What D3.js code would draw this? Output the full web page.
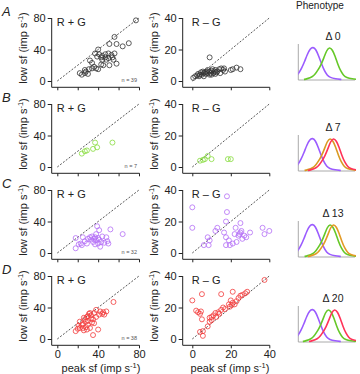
<!DOCTYPE html>
<html><head><meta charset="utf-8">
<script src="https://cdn.jsdelivr.net/npm/d3@7"></script>
<style>
html,body{margin:0;padding:0;background:#fff;}
svg{display:block;font-family:"Liberation Sans",Arial,sans-serif;}
</style></head>
<body><svg id="c" width="360" height="374"></svg>
<script>
// ---------- data ----------
const rowLetters = ["A","B","C","D"];
const sumTitle = "R + G", diffTitle = "R \u2013 G";
const nLabels = ["n = 39","n = 7","n = 32","n = 38"];
const phenoLabels = ["\u0394 0","\u0394 7","\u0394 13","\u0394 20"];
const xTicksSum = [0,20,40,60,80], yTicksSum = [0,40,80];
const xTicksDiff = [0,20,40], yTicksDiff = [0,20,40];
const colors = ["#333333","#86dc3c","#b46ef6","#f23c3c"];

// R+G : [peak sf, low sf]
const sumA = [[77,77],[56,56],[51,47],[58,47],[64,44],[70,48],[40,40],[37,35],[41,34],[44,32],[47,34],[50,35],[53,33],[56,35],[39,31],[43,30],[47,30],[50,29],[54,30],[44,27],[48,27],[55,27],[32,26],[34,23],[45,20],[51,20],[58,22],[40,15],[43,21],[34,16],[27,14],[31,15],[28,12],[24,8],[30,9],[27,10],[22,10],[36,18],[38,16]];
const sumB = [[24,17],[27,20],[29,21],[35,23],[37,31],[39,25],[54,31]];
const sumC = [[18,19],[18,6],[21,11],[23,12],[25,20],[24,10],[27,15],[29,12],[30,18],[32,20],[33,17],[34,21],[35,14],[36,18],[37,11],[37,20],[38,24],[38,16],[39,34],[40,19],[40,12],[41,29],[41,17],[42,8],[43,14],[44,21],[46,13],[48,20],[49,15],[50,12],[52,30],[64,24]];
const sumD = [[55,47],[48,35],[44,32],[45,34],[46,31],[42,35],[38,37],[36,33],[32,33],[33,30],[31,32],[29,28],[30,29],[27,25],[26,27],[28,22],[25,19],[22,22],[24,18],[21,17],[20,13],[18,10],[22,14],[25,14],[28,15],[30,18],[32,14],[34,21],[35,25],[36,20],[30,23],[33,26],[40,12],[35,5],[29,12],[26,11],[38,28],[41,31]];
// R-G
const diffA = [[0.5,2],[1.5,3],[2.5,3.5],[3,4.5],[4,4],[4.5,5.5],[5,4],[5.5,6],[6,5],[6.5,5.5],[7,4.5],[7.5,6],[8,5],[8,7],[9,4],[9,6],[9.5,5],[10,6.5],[10,4],[10.5,7.5],[11,5],[11.5,6],[12,4.5],[12,7],[12.5,5.5],[13,6],[14,7.5],[14.5,5],[15,8],[16,7],[16.5,8],[17,6],[9,15],[20,7],[21,7.5],[23,8.5],[25,7.5],[3.5,3],[6,3]];
const diffB = [[4,4],[5.5,4.5],[6.5,5],[8,7],[10,5],[18.5,5],[20,5]];
const diffC = [[0,29],[0,16],[18,36],[18,26],[17.5,20],[25,19],[13,16],[22.5,16],[8,10],[9,8],[6,5],[8.5,5],[16.5,13],[17.5,10],[19,8],[17.5,5],[19.5,5],[23,7],[24,11],[25,13],[25.5,14],[24.5,12],[27,11],[28,10],[30,13],[22,12],[36.5,16],[40,14],[37.5,12],[21,6],[26,9],[12,14]];
const diffD = [[37.5,37.5],[28.5,30],[27.5,29],[26,28],[25,27.5],[24,26],[23,24],[21,23],[21,30],[15,28.5],[5,28.5],[0,24.5],[20,24.5],[19.5,20.5],[20.5,21.5],[19,22],[15,18.5],[13.5,17],[12,16.5],[11,15],[10,14],[9,13.5],[9,11],[8,8],[5,12.5],[2,18],[3,17],[4.5,17.5],[4,16],[5.5,5],[5.5,2],[4,4.5],[10,12],[14,16],[17,19],[22,22],[16,20],[12.5,14]];
const sumData = [sumA,sumB,sumC,sumD];
const diffData = [diffA,diffB,diffC,diffD];

// phenotype spectral curves: shape samples (offset from peak, relative sensitivity)
const sOffsets = [-30,-25,-20,-15,-10,-5,0,5,10,15,20,25,30,40,50];
const sValues  = [0.1,0.2,0.35,0.55,0.78,0.95,1,0.93,0.72,0.48,0.27,0.13,0.06,0.02,0];
const lmOffsets = [-45,-40,-30,-25,-20,-15,-10,-5,0,5,10,15,20,25,30,40,50];
const lmValues  = [0,0.02,0.08,0.17,0.3,0.45,0.66,0.9,1,0.92,0.72,0.45,0.25,0.12,0.06,0.02,0];
// per row: [color, peak, shape]
const phenoCurves = [
  [["#9b5cff",26,"s"],["#66c828",55,"lm"]],
  [["#9b5cff",25,"s"],["#d99a22",56,"lm"],["#ff3358",62,"lm"]],
  [["#9b5cff",25,"s"],["#66c828",56,"lm"],["#e39a25",62,"lm"]],
  [["#9b5cff",25,"s"],["#66c828",53,"lm"],["#ff3358",64,"lm"]]
];

// ---------- layout ----------
const rowZero = [81,167,253,339];
const phenoBase = [80,171,257,342];
const svg = d3.select("#c");
const ink = "#222";

const xL = d3.scaleLinear([0,80],[57.3,139]);
const xR = d3.scaleLinear([0,40],[192.3,269.3]);
const xP = d3.scaleLinear([0,100],[298.3,355]);

svg.append("text").attr("x",320).attr("y",9).attr("text-anchor","middle")
  .attr("font-size",10).attr("fill","#222").text("Phenotype");

function ylabel(x,y){
  const t = svg.append("text").attr("transform",`translate(${x},${y}) rotate(-90)`)
    .attr("text-anchor","middle").attr("font-size",11).attr("fill",ink);
  t.append("tspan").text("low sf (imp s");
  t.append("tspan").attr("dy",-4).attr("font-size",7.5).text("-1");
  t.append("tspan").attr("dy",4).text(")");
}
function xlabel(x,y){
  const t = svg.append("text").attr("x",x).attr("y",y)
    .attr("text-anchor","middle").attr("font-size",11).attr("fill",ink);
  t.append("tspan").text("peak sf (imp s");
  t.append("tspan").attr("dy",-4).attr("font-size",7.5).text("-1");
  t.append("tspan").attr("dy",4).text(")");
}

function panel(i, xs, ys, data, xt, yt, spineX, title, nLab, maxV){
  const z = rowZero[i];
  const g = svg.append("g");
  const ax = z + 6.3;
  // spines
  g.append("line").attr("x1",spineX).attr("x2",spineX).attr("y1",ys(maxV)).attr("y2",ax)
    .attr("stroke",ink).attr("stroke-width",1);
  g.append("line").attr("x1",spineX).attr("x2",xs(maxV)+0.5).attr("y1",ax).attr("y2",ax)
    .attr("stroke",ink).attr("stroke-width",1);
  // y axis
  const ya = g.append("g").attr("transform",`translate(${spineX},0)`)
    .call(d3.axisLeft(ys).tickValues(yt).tickSize(4).tickPadding(2));
  ya.select(".domain").remove();
  ya.selectAll("text").attr("font-size",11).attr("fill",ink).attr("font-family","Liberation Sans, Arial, sans-serif");
  ya.selectAll("line").attr("stroke",ink);
  // x axis
  const xa = g.append("g").attr("transform",`translate(0,${ax})`)
    .call(d3.axisBottom(xs).tickValues(xt).tickSize(3).tickPadding(2)
      .tickFormat(d => (i===3 && d % (maxV/2)===0) ? d : ""));
  xa.select(".domain").remove();
  xa.selectAll("text").attr("font-size",11).attr("fill",ink).attr("font-family","Liberation Sans, Arial, sans-serif");
  xa.selectAll("line").attr("stroke",ink);
  // diagonal
  g.append("line").attr("x1",xs(0)).attr("y1",ys(0)).attr("x2",xs(maxV)).attr("y2",ys(maxV))
    .attr("stroke","#444").attr("stroke-width",0.9).attr("stroke-dasharray","2,1.6");
  // points
  g.selectAll("circle").data(data).join("circle")
    .attr("cx",d=>xs(d[0])).attr("cy",d=>ys(d[1])).attr("r",2.5)
    .attr("fill","none").attr("stroke",colors[i]).attr("stroke-width",0.8);
  // title
  g.append("text").attr("x",xs(0)-0.5).attr("y",z-55.5).attr("font-size",11).attr("fill",ink).text(title);
  if(nLab){
    g.append("text").attr("x",xs(maxV)-2).attr("y",z+0.5).attr("text-anchor","end")
      .attr("font-size",5.5).attr("fill","#555").text(nLab);
  }
}

const lineGen = d3.line().curve(d3.curveBasis);
for(let i=0;i<4;i++){
  const z = rowZero[i];
  const yS = d3.scaleLinear([0,80],[z,z-63]);
  const yD = d3.scaleLinear([0,40],[z,z-63]);
  panel(i,xL,yS,sumData[i],xTicksSum,yTicksSum,51.7,sumTitle,nLabels[i],80);
  panel(i,xR,yD,diffData[i],xTicksDiff,yTicksDiff,182.7,diffTitle,null,40);
  ylabel(27, z-33);
  ylabel(157.5, z-33);
  svg.append("text").attr("x",2).attr("y",z-65).attr("font-size",13)
    .attr("font-style","italic").attr("fill",ink).text(rowLetters[i]);

  // phenotype
  const b = phenoBase[i];
  const yP = d3.scaleLinear([0,1],[b-0.5,b-33]);
  const pg = svg.append("g");
  const cid = "clip"+i;
  svg.append("clipPath").attr("id",cid).append("rect")
    .attr("x",xP(0)).attr("y",b-40).attr("width",xP(100)-xP(0)+1).attr("height",41);
  pg.append("line").attr("x1",xP(0)).attr("x2",xP(0)).attr("y1",b-36).attr("y2",b)
    .attr("stroke","#aaa").attr("stroke-width",1);
  pg.append("line").attr("x1",xP(0)).attr("x2",xP(100)).attr("y1",b).attr("y2",b)
    .attr("stroke","#aaa").attr("stroke-width",1);
  const cg = pg.append("g").attr("clip-path",`url(#${cid})`);
  phenoCurves[i].forEach(([col,peak,shape])=>{
    const offs = shape==="s"?sOffsets:lmOffsets;
    const vals = shape==="s"?sValues:lmValues;
    const pts = offs.map((o,k)=>[xP(peak+o), yP(vals[k])]);
    cg.append("path").attr("d",lineGen(pts)).attr("fill","none")
      .attr("stroke",col).attr("stroke-width",1.6);
  });
  pg.append("text").attr("x",333).attr("y",b-40).attr("text-anchor","middle")
    .attr("font-size",10.5).attr("fill",ink).text(phenoLabels[i]);
}
xlabel(101, 372);
xlabel(230, 372);
</script></body></html>
